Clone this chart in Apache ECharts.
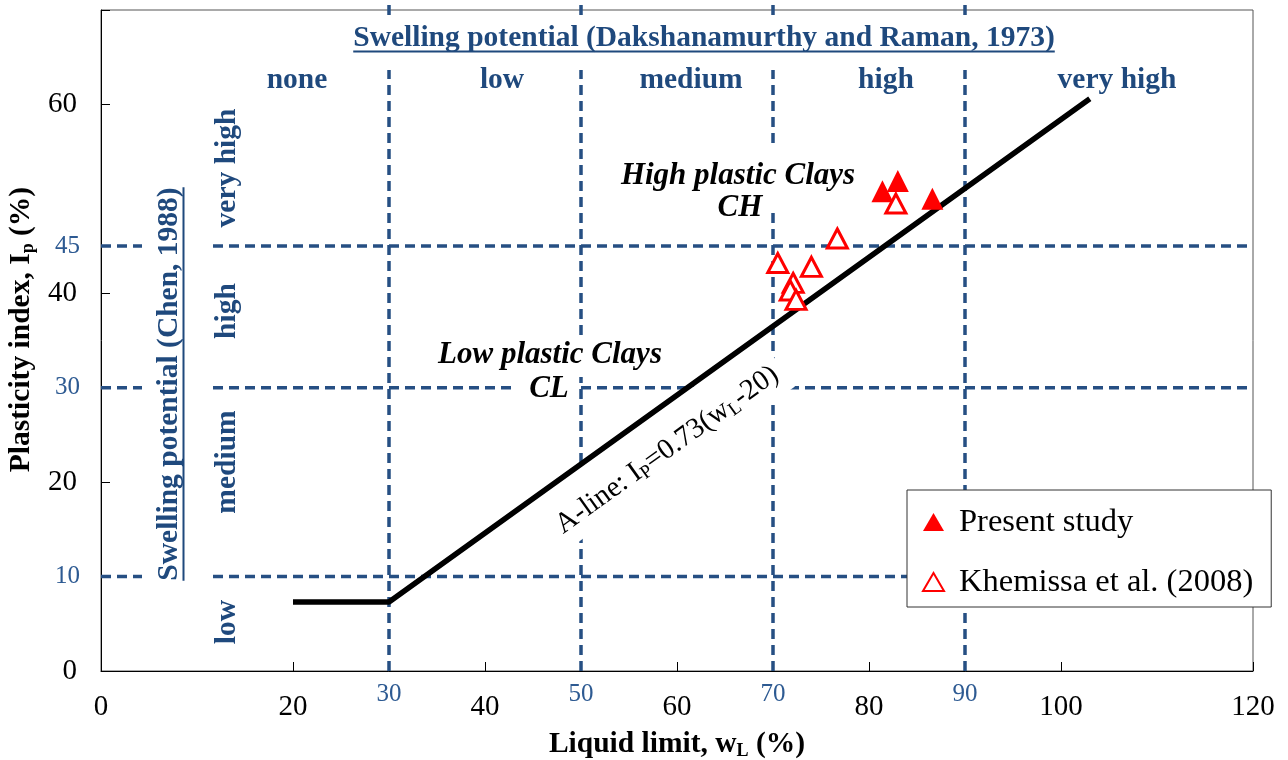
<!DOCTYPE html>
<html><head><meta charset="utf-8">
<script src="https://cdn.jsdelivr.net/npm/echarts@6/dist/echarts.min.js"></script>
<style>html,body{margin:0;padding:0;background:#fff}#c{width:1288px;height:760px}</style>
</head><body><div id="c"></div>
<script>
// ---- data ----
const presentStudy = [[81.4, 50.8], [83.0, 51.9], [86.6, 50.0]];
const khemissa = [[70.5, 43.2], [74.0, 42.8], [72.1, 41.1], [71.8, 40.3], [72.4, 39.3], [76.7, 45.8], [82.8, 49.5]];
const aLine = [[20, 7.3], [30, 7.3], [103, 60.6]];
const llBoundaries = [30, 50, 70, 90];      // Dakshanamurthy & Raman (liquid limit)
const piBoundaries = [10, 30, 45];          // Chen (plasticity index)
const dakshLabels = ['none', 'low', 'medium', 'high', 'very high'];
const chenLabels = ['low', 'medium', 'high', 'very high'];

const SERIF = '"Liberation Serif", "Times New Roman", serif';
const BLUE_TXT = '#1F497D';
const BLUE_LINE = '#264F83';
const BLUE_NUM = '#2D5A92';
const RED = '#FF0000';

const dashStyle = { color: BLUE_LINE, width: 3.5, type: [10, 6] };
const refSeries = [];
llBoundaries.forEach(v => refSeries.push({
  type: 'line', data: [[v, 0], [v, 71]], symbol: 'none', clip: false, silent: true, z: 2,
  lineStyle: dashStyle
}));
piBoundaries.forEach(v => refSeries.push({
  type: 'line', data: [[0, v], [120, v]], symbol: 'none', clip: false, silent: true, z: 2,
  lineStyle: dashStyle
}));

const subRich = (size, bold) => ({ s: { fontFamily: SERIF, fontSize: size, fontWeight: bold ? 'bold' : 'normal', verticalAlign: 'bottom', lineHeight: size } });

const option = {
  animation: false,
  backgroundColor: '#fff',
  grid: { left: 101, right: 35, top: 10, bottom: 89, outerBoundsMode: 'none', containLabel: false,
    show: true, borderColor: '#555', borderWidth: 1, backgroundColor: 'transparent' },
  xAxis: [
    {
      type: 'value', min: 0, max: 120, interval: 20, position: 'bottom',
      axisLine: { show: true, lineStyle: { color: '#000', width: 1 } },
      axisTick: { show: true, inside: true, length: 9, lineStyle: { color: '#000' } },
      splitLine: { show: false },
      axisLabel: { fontFamily: SERIF, fontSize: 29, color: '#000', margin: 22 },
      name: 'Liquid limit, w{s|L} (%)', nameLocation: 'middle', nameGap: 57,
      nameTextStyle: { fontFamily: SERIF, fontSize: 29.5, fontWeight: 'bold', color: '#000', lineHeight: 32, rich: subRich(18, true) }
    },
    {
      type: 'value', min: 0, max: 120, interval: 10, position: 'bottom',
      axisLine: { show: false }, axisTick: { show: false }, splitLine: { show: false },
      axisLabel: { fontFamily: SERIF, fontSize: 25, color: BLUE_NUM, margin: 11,
        formatter: v => llBoundaries.includes(v) ? String(v) : '' }
    }
  ],
  yAxis: [
    {
      type: 'value', min: 0, max: 70, interval: 20, position: 'left',
      axisLine: { show: true, lineStyle: { color: '#000', width: 1 } },
      axisTick: { show: true, inside: true, length: 9, lineStyle: { color: '#000' } },
      splitLine: { show: false },
      axisLabel: { fontFamily: SERIF, fontSize: 29, color: '#000', margin: 24,
        formatter: v => (v % 20 === 0 ? String(v) : '') },
      name: 'Plasticity index, I{s|p} (%)', nameLocation: 'middle', nameGap: 57, nameRotate: 90,
      nameTextStyle: { fontFamily: SERIF, fontSize: 29.5, fontWeight: 'bold', color: '#000', lineHeight: 32,
        padding: [0, 0, 0, 22], rich: subRich(18, true) }
    },
    {
      type: 'value', min: 0, max: 70, interval: 5, position: 'left',
      axisLine: { show: false }, axisTick: { show: false }, splitLine: { show: false },
      axisLabel: { fontFamily: SERIF, fontSize: 25, color: BLUE_NUM, margin: 21,
        formatter: v => piBoundaries.includes(v) ? String(v) : '' }
    }
  ],
  legend: {
    orient: 'vertical', left: 907, top: 490, padding: [14, 18, 7, 15],
    itemGap: 24, itemWidth: 21, itemHeight: 18,
    backgroundColor: '#fff', borderColor: '#333', borderWidth: 1, borderRadius: 0,
    textStyle: { fontFamily: SERIF, fontSize: 32.5, lineHeight: 36, color: '#000', padding: [0, 0, 0, 10] },
    z: 20,
    data: [
      { name: 'Present study', icon: 'triangle' },
      { name: 'Khemissa et al. (2008)', icon: 'triangle' }
    ]
  },
  series: refSeries.concat([
    {
      name: 'A-line', type: 'line', data: aLine, symbol: 'none', z: 10, silent: true,
      lineStyle: { color: '#000', width: 5.5 }
    },
    {
      name: 'Present study', type: 'scatter', data: presentStudy, symbol: 'triangle',
      symbolSize: [22, 22], z: 12, itemStyle: { color: RED, opacity: 1 }
    },
    {
      name: 'Khemissa et al. (2008)', type: 'scatter', data: khemissa, symbol: 'triangle',
      symbolSize: [20, 19], z: 13, itemStyle: { color: '#fff', borderColor: RED, borderWidth: 3, opacity: 1 }
    }
  ])
};

const chart = echarts.init(document.getElementById('c'), null, { renderer: 'canvas' });
chart.setOption(option);

// ---- annotations ----
const mctx = document.createElement('canvas').getContext('2d');
function tw(text, size, weight, style) {
  mctx.font = (style || 'normal') + ' ' + (weight || 'normal') + ' ' + size + 'px ' + SERIF;
  return mctx.measureText(text).width;
}
const P = (x, y) => chart.convertToPixel({ gridIndex: 0 }, [x, y]);

const g = [];
function mask(x, y, w, h) {
  g.push({ type: 'rect', shape: { x, y, width: w, height: h }, style: { fill: '#fff' }, z: 5, silent: true });
}
function txt(text, x, y, opts) {
  g.push({
    type: 'text', x, y, rotation: opts.rot || 0, z: 6, silent: true,
    style: {
      text, fill: opts.color || '#000', fontFamily: SERIF, fontSize: opts.size,
      fontWeight: opts.weight || 'normal', fontStyle: opts.style || 'normal',
      align: 'center', verticalAlign: 'middle', rich: opts.rich
    }
  });
}
function uline(x1, y1, x2, y2) {
  g.push({ type: 'line', shape: { x1, y1, x2, y2 }, style: { stroke: BLUE_TXT, lineWidth: 2 }, z: 6, silent: true });
}

// masks (white boxes behind labels, as in the original)
mask(350, 18, 712, 52);
mask(142, 183, 70, 404);
mask(620, 143, 236, 70);
mask(436, 336, 230, 41);
mask(517, 377, 60, 26);

const LBL = 29.5;
// top title
const title = 'Swelling potential (Dakshanamurthy and Raman, 1973)';
const tW = tw(title, LBL, 'bold');
txt(title, 704, 38, { size: LBL, weight: 'bold', color: BLUE_TXT });
uline(704 - tW / 2, 51.5, 704 + tW / 2, 51.5);

// column labels
const dakX = [297, 502, 691, 886, 1117];
dakshLabels.forEach((t, i) => txt(t, dakX[i], 80, { size: LBL, weight: 'bold', color: BLUE_TXT }));

// left rotated labels
const chenY = [622, 462, 311, 168];
chenLabels.forEach((t, i) => txt(t, 227, chenY[i], { size: LBL, weight: 'bold', color: BLUE_TXT, rot: Math.PI / 2 }));
const ctitle = 'Swelling potential (Chen, 1988)';
const cW = tw(ctitle, LBL, 'bold');
txt(ctitle, 169, 384, { size: LBL, weight: 'bold', color: BLUE_TXT, rot: Math.PI / 2 });
uline(183.5, 384 - cW / 2, 183.5, 384 + cW / 2);

// clay zones
txt('High plastic Clays', 738, 176, { size: 31, weight: 'bold', style: 'italic' });
txt('CH', 740, 208, { size: 31, weight: 'bold', style: 'italic' });
txt('Low plastic Clays', 550, 355, { size: 31, weight: 'bold', style: 'italic' });
txt('CL', 549, 389, { size: 31, weight: 'bold', style: 'italic' });

// A-line label, rotated along the line
const p1 = P(aLine[1][0], aLine[1][1]);
const p2 = P(aLine[2][0], aLine[2][1]);
const ang = Math.atan2(p1[1] - p2[1], p2[0] - p1[0]);
g.push({
  type: 'group', x: 667, y: 450, rotation: ang, z: 5, silent: true,
  children: [
    { type: 'rect', shape: { x: -141, y: -36, width: 282, height: 59 }, style: { fill: '#fff' }, z: 5 },
    { type: 'text', z: 6, style: {
      text: 'A-line: I{s|P}=0.73(w{s|L}-20)', fill: '#000', fontFamily: SERIF, fontSize: 29, lineHeight: 32,
      align: 'center', verticalAlign: 'middle',
      rich: { s: { fontFamily: SERIF, fontSize: 19, verticalAlign: 'bottom', lineHeight: 19, fill: '#000' } }
    } }
  ]
});

chart.setOption({ graphic: { elements: g } });
</script>
</body></html>
